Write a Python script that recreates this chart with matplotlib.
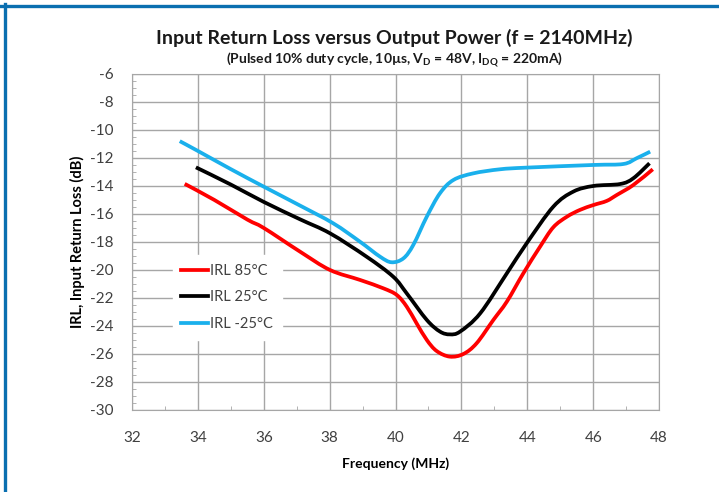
import matplotlib
matplotlib.use("Agg")
import matplotlib.pyplot as plt
import numpy as np
from matplotlib.ticker import MultipleLocator
from matplotlib.lines import Line2D
from matplotlib.path import Path
from matplotlib.patches import PathPatch

plt.rcParams['font.family'] = ['Lato', 'DejaVu Sans']
plt.rcParams['axes.unicode_minus'] = False
plt.rcParams['mathtext.fontset'] = 'custom'
plt.rcParams['mathtext.rm'] = 'Lato:bold'
plt.rcParams['mathtext.bf'] = 'Lato:bold'

# values
freq_85 = [33.6, 34.5, 35.5, 36.0, 37.1, 38.01, 38.92, 39.63, 40.04, 40.34, 40.64, 40.95, 41.25,
           41.65, 42.06, 42.46, 42.97, 43.38, 43.88, 44.39, 44.79, 45.2, 45.6, 46.01, 46.41,
           46.72, 47.22, 47.81]
irl_85 = [-13.85, -15.0, -16.4, -17.0, -18.69, -20.0, -20.71, -21.31, -21.79, -22.62, -23.81, -25.0,
          -25.79, -26.19, -26.0, -25.24, -23.57, -22.26, -20.24, -18.33, -16.95, -16.2, -15.71,
          -15.36, -15.07, -14.64, -13.93, -12.81]

freq_25 = [33.94, 35.0, 36.0, 37.1, 38.01, 39.12, 39.93, 40.34, 40.95, 41.35, 41.65, 41.96, 42.57,
           43.38, 43.98, 44.79, 45.4, 46.01, 46.82, 47.22, 47.71]
irl_25 = [-12.67, -13.9, -15.14, -16.38, -17.38, -19.05, -20.48, -21.67, -23.57, -24.4, -24.6,
          -24.4, -23.1, -20.24, -18.1, -15.48, -14.4, -14.0, -13.86, -13.45, -12.38]

freq_m25 = [33.45, 34.0, 35.0, 36.0, 37.1, 38.11, 38.92, 39.53, 39.88, 40.24, 40.54, 40.95, 41.35,
            41.76, 42.36, 43.17, 43.98, 46.01, 46.92, 47.32, 47.73]
irl_m25 = [-10.8, -11.5, -12.8, -14.05, -15.4, -16.67, -17.98, -19.05, -19.45, -19.17, -18.21,
           -16.19, -14.52, -13.57, -13.1, -12.81, -12.69, -12.5, -12.43, -12.02, -11.55]

labels = ['IRL 85°C', 'IRL 25°C', 'IRL -25°C']
colors = ['#ff0000', '#000000', '#1ab0ec']


def smooth_path(xs, ys):
    # Excel-style smoothed line: cubic Bezier segments through the points
    p = np.column_stack([xs, ys])
    verts = [p[0]]
    codes = [Path.MOVETO]
    n = len(p)
    for i in range(n - 1):
        p0 = p[i - 1] if i > 0 else p[i]
        p3 = p[i + 2] if i + 2 < n else p[i + 1]
        c1 = p[i] + (p[i + 1] - p0) / 6.0
        c2 = p[i + 1] - (p3 - p[i]) / 6.0
        verts += [c1, c2, p[i + 1]]
        codes += [Path.CURVE4] * 3
    return Path(verts, codes)


fig = plt.figure(figsize=(7.19, 4.92), dpi=100)
ax = fig.add_axes([0.1836, 0.1667, 0.733, 0.683])

handles = []
for xs, ys, c, lab in [(freq_85, irl_85, colors[0], labels[0]),
                       (freq_25, irl_25, colors[1], labels[1]),
                       (freq_m25, irl_m25, colors[2], labels[2])]:
    ax.add_patch(PathPatch(smooth_path(xs, ys), fill=False, edgecolor=c, lw=2.7,
                           capstyle='butt', joinstyle='round'))
    handles.append(Line2D([], [], color=c, lw=2.7, label=lab))

ax.set_xlim(32, 48)
ax.set_ylim(-30, -6)
ax.xaxis.set_major_locator(MultipleLocator(2))
ax.yaxis.set_major_locator(MultipleLocator(2))
ax.xaxis.set_minor_locator(MultipleLocator(1))
ax.yaxis.set_minor_locator(MultipleLocator(0.5))
ax.grid(True, which='major', color='#a6a6a6', lw=1.0)
ax.set_axisbelow(True)
for s in ax.spines.values():
    s.set_color('#a6a6a6')
ax.tick_params(which='major', length=0, labelsize=11, labelcolor='#404040')
ax.tick_params(axis='x', which='major', pad=15)
ax.tick_params(axis='y', which='major', pad=13)
ax.tick_params(which='minor', direction='in', length=3, color='#a6a6a6')

ax.set_xlabel('Frequency (MHz)', fontsize=10, fontweight='bold', labelpad=9)
ax.set_ylabel('IRL, Input Return Loss (dB)', fontsize=10.5, fontweight='bold', labelpad=4)

leg = ax.legend(handles=handles, loc='upper left', bbox_to_anchor=(0.063, 0.482), frameon=True,
                fontsize=10.5, handlelength=1.8, handletextpad=0.2, labelspacing=0.85,
                borderpad=0.6, fancybox=False)
leg.get_frame().set_edgecolor('white')
leg.get_frame().set_facecolor('white')
leg.get_frame().set_alpha(1)
for t in leg.get_texts():
    t.set_color('#404040')

fig.text(0.549, 0.922, 'Input Return Loss versus Output Power (f = 2140MHz)',
         ha='center', va='center', fontsize=14, fontweight='bold', color='#1a1a1a')
fig.text(0.549, 0.88,
         r'(Pulsed 10% duty cycle, 10µs, V$_\mathregular{D}$ = 48V, I$_\mathregular{DQ}$ = 220mA)',
         ha='center', va='center', fontsize=10, fontweight='bold', color='#1a1a1a')

# blue frame along the top and left edge
blue = '#0a6fb0'
fig.add_artist(Line2D([0.0, 1.0], [0.988, 0.988], transform=fig.transFigure, color=blue, lw=2.4))
fig.add_artist(Line2D([0.0063, 0.0063], [0.0, 0.991], transform=fig.transFigure, color=blue, lw=2.4))

fig.savefig('out.png', dpi=100)
